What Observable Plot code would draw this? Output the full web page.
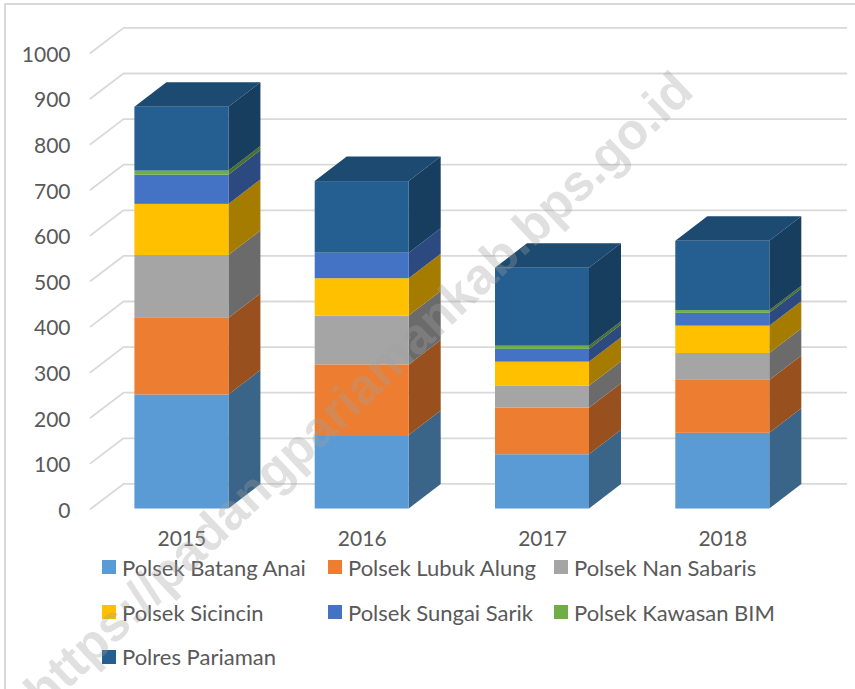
<!DOCTYPE html>
<html><head><meta charset="utf-8">
<script src="https://cdn.jsdelivr.net/npm/d3@7"></script>
<script src="https://cdn.jsdelivr.net/npm/@observablehq/plot@0.6"></script>
<style>
html,body{margin:0;padding:0;background:#fff;overflow:hidden}
#page{position:relative;width:855px;height:689px;overflow:hidden;font-family:Lato,sans-serif;color:#595959}
#border{position:absolute;left:4px;top:3px;width:900px;height:800px;border-left:2px solid #d9d9d9;border-top:2px solid #d9d9d9}
#chart{position:absolute;left:0;top:0}
#chart svg{display:block;background:transparent}
#legend{position:absolute;left:102px;top:545px;display:grid;grid-template-columns:226px 226px 226px;grid-auto-rows:44.8px;font-size:22px}
#legend div{display:flex;align-items:center;white-space:nowrap}
#legend i{display:inline-block;width:14px;height:14px;margin-right:6px}
#wm{position:absolute;left:358px;top:390px;transform:translate(-50%,-50%) rotate(-43.5deg);font:bold 50.5px "Liberation Sans",sans-serif;color:#a0a0a0;opacity:.32;white-space:nowrap;pointer-events:none}
</style></head><body>
<div id="page"><div id="border"></div><div id="chart"></div><div id="legend"></div>
<div id="wm">https://padangpariamankab.bps.go.id</div></div>
<script>
const years=["2015","2016","2017","2018"];
const seriesNames=["Polsek Batang Anai","Polsek Lubuk Alung","Polsek Nan Sabaris","Polsek Sicincin","Polsek Sungai Sarik","Polsek Kawasan BIM","Polres Pariaman"];
const batangAnai=[250,161,119,166];
const lubukAlung=[168,155,102,116];
const nanSabaris=[138,107,48,59];
const sicincin=[112,82,53,60];
const sungaiSarik=[64,56,28,28];
const kawasanBim=[9,0,7,6];
const polres=[140,157,171,152];
const seriesValues=[batangAnai,lubukAlung,nanSabaris,sicincin,sungaiSarik,kawasanBim,polres];
const frontColors=["#5b9bd5","#ed7d31","#a5a5a5","#ffc000","#4472c4","#70ad47","#255e91"];
const sideColors=["#3a6488","#99501f","#6b6b6b","#a67c00","#2c4a80","#49702e","#173d5f"];
const topColor="#1c4a70";
const yTicks=d3.range(0,1001,100);

// box geometry, in scale units
const halfBar=0.2607, depthX=0.1775, depthY=53.7, gridLeft=-0.507, gridBack=-0.324, gridRight=3.685, gridDepth=55;

const fronts=[],sides=[],tops=[];
years.forEach((yr,i)=>{
  let base=0;
  seriesValues.forEach((vals,s)=>{
    const v=vals[i]; if(!v) return;
    const next=base+v, xr=i+halfBar;
    fronts.push({x1:i-halfBar,x2:xr,y1:base,y2:next,fill:frontColors[s]});
    const key=yr+s;
    sides.push({key,x:xr,y1:base,y2:next,fill:sideColors[s]});
    sides.push({key,x:xr+depthX,y1:base+depthY,y2:next+depthY,fill:sideColors[s]});
    base=next;
  });
  const xl=i-halfBar, xr=i+halfBar;
  [[xl,base,base],[xl+depthX,base,base+depthY],[xr,base,base+depthY],[xr+depthX,base+depthY,base+depthY]]
    .forEach(([x,y1,y2])=>tops.push({key:yr,x,y1,y2}));
});
const gridRows=yTicks.flatMap(t=>[
  {t,x:gridLeft,y:t},{t,x:gridBack,y:t+gridDepth},{t,x:gridRight,y:t+gridDepth}
]);

const plot=Plot.plot({
  width:855,height:556,
  marginLeft:70,marginRight:0,marginTop:0,marginBottom:47.5,
  style:{fontFamily:"Lato,sans-serif",fontSize:"21px",color:"#595959",background:"transparent",overflow:"visible"},
  x:{type:"linear",domain:[-0.6179,3.736],range:[70,855]},
  y:{type:"linear",domain:[0,1115.1],range:[508.5,0]},
  color:{type:"identity"},
  marks:[
    Plot.line(gridRows,{x:"x",y:"y",z:"t",stroke:"#d9d9d9",strokeWidth:1.8}),
    Plot.area(tops,{x1:"x",y1:"y1",y2:"y2",z:"key",fill:topColor,curve:"linear"}),
    Plot.area(sides,{x1:"x",y1:"y1",y2:"y2",z:"key",fill:"fill",curve:"linear"}),
    Plot.rect(fronts,{x1:"x1",x2:"x2",y1:"y1",y2:"y2",fill:"fill"}),
    Plot.axisY({ticks:yTicks,tickFormat:"d",tickSize:0,tickPadding:0,label:null,fontSize:21,dy:2}),
    Plot.axisX({ticks:[0,1,2,3],tickFormat:i=>years[i],tickSize:0,tickPadding:22,label:null,fontSize:21})
  ]
});
document.getElementById("chart").append(plot);
const lg=d3.select("#legend");
seriesNames.forEach((n,i)=>{
  const d=lg.append("div");
  d.append("i").style("background",frontColors[i]);
  d.append("span").text(n);
});
</script></body></html>
